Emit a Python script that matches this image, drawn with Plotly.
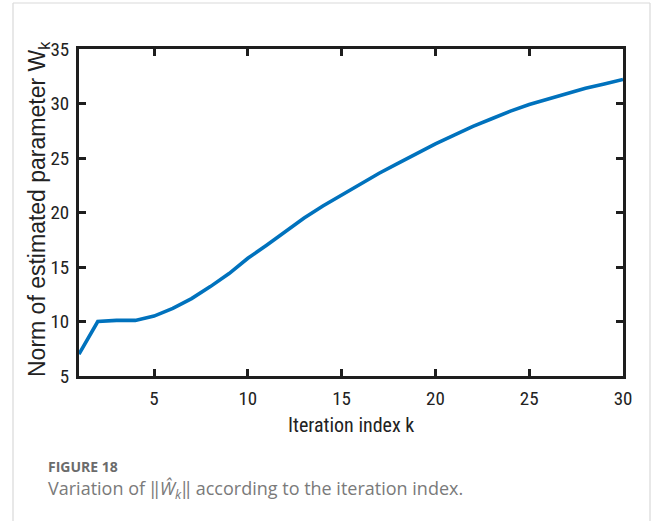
import plotly.graph_objects as go

iterations = list(range(1, 31))
norm_w = [7.0, 10.0, 10.1, 10.1, 10.5, 11.2, 12.1, 13.2, 14.4, 15.8,
          17.0, 18.3, 19.5, 20.6, 21.6, 22.6, 23.6, 24.5, 25.4, 26.3,
          27.1, 27.9, 28.6, 29.3, 29.9, 30.4, 30.9, 31.4, 31.8, 32.2]
x_ticks = [5, 10, 15, 20, 25, 30]
y_ticks = [5, 10, 15, 20, 25, 30, 35]

W, H = 656, 521
L, R, T, B = 79, 33, 49, 145
pw, ph = W - L - R, H - T - B

def px(xp):
    return (xp - L) / pw

def py(yp):
    return (H - B - yp) / ph

fig = go.Figure()
fig.add_trace(go.Scatter(x=iterations, y=norm_w, mode="lines",
                         line=dict(color="#0072BD", width=3.6),
                         showlegend=False, hoverinfo="skip"))

axis_common = dict(showline=True, linewidth=3, linecolor="#1e1e1e",
                   mirror="ticks", ticks="inside", ticklen=7, tickwidth=2.5,
                   tickcolor="#1e1e1e", showgrid=False, zeroline=False,
                   tickfont=dict(family="Roboto Condensed, Liberation Sans", size=19, color="#222"))

fig.update_xaxes(range=[1, 30], tickvals=x_ticks, ticklabelstandoff=3, **axis_common)
fig.update_yaxes(range=[5, 35], tickvals=y_ticks, ticklabelstandoff=3, **axis_common)

gray = "#d9d9d9"
fig.add_shape(type="line", xref="paper", yref="paper",
              x0=px(13), x1=px(13), y0=py(3), y1=py(530), line=dict(color=gray, width=1.2))
fig.add_shape(type="line", xref="paper", yref="paper",
              x0=px(650), x1=px(650), y0=py(3), y1=py(530), line=dict(color=gray, width=1.2))
fig.add_shape(type="line", xref="paper", yref="paper",
              x0=px(13), x1=px(650), y0=py(3), y1=py(3), line=dict(color=gray, width=1.2))

fig.add_annotation(text="Norm of estimated parameter W<sub>k</sub>", xref="paper", yref="paper",
                   x=px(38), y=py(209), xanchor="center", yanchor="middle",
                   textangle=-90, showarrow=False,
                   font=dict(family="Liberation Sans, Arial", size=23, color="#222"))
fig.add_annotation(text="Iteration index k", xref="paper", yref="paper",
                   x=px(351), y=py(425), xanchor="center", yanchor="middle",
                   showarrow=False,
                   font=dict(family="Roboto Condensed, Liberation Sans", size=20, color="#222"))
fig.add_annotation(text="<b>FIGURE 18</b>", xref="paper", yref="paper",
                   x=px(46), y=py(466), xanchor="left", yanchor="middle",
                   showarrow=False,
                   font=dict(family="Open Sans, Noto Sans", size=14, color="#6b6b6b"))
fig.add_annotation(text="Variation of ‖<i>Ŵ</i><sub><i>k</i></sub>‖ according to the iteration index.",
                   xref="paper", yref="paper",
                   x=px(46), y=py(489), xanchor="left", yanchor="middle",
                   showarrow=False,
                   font=dict(family="Open Sans, Noto Sans", size=18, color="#7a7a7a"))

fig.update_layout(width=W, height=H, margin=dict(l=L, r=R, t=T, b=B),
                  paper_bgcolor="white", plot_bgcolor="white")

fig.write_html("out.html", config={"displayModeBar": False},
               post_script="document.body.style.margin='0px';")
